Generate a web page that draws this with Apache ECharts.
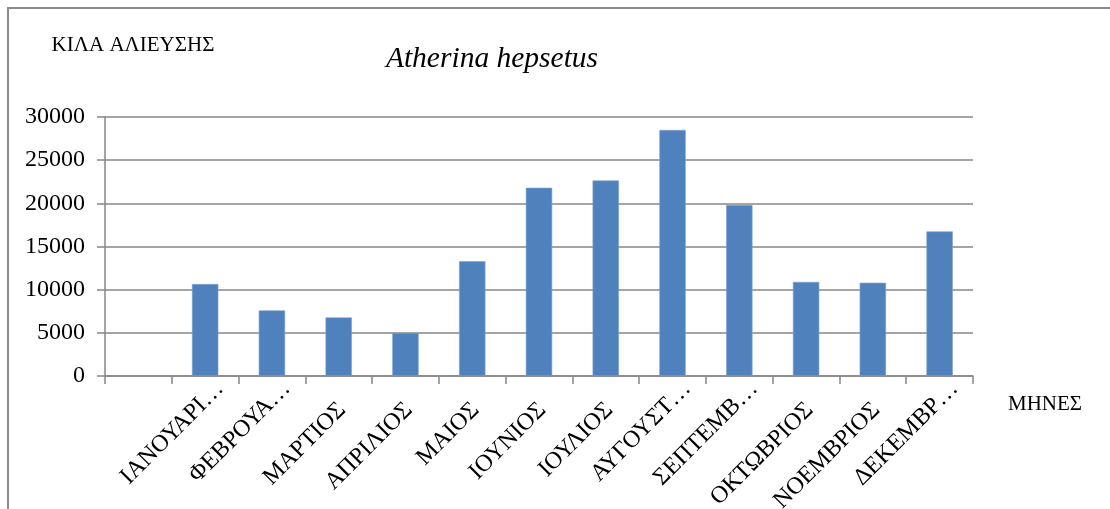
<!DOCTYPE html>
<html>
<head>
<meta charset="utf-8">
<script src="https://cdn.jsdelivr.net/npm/echarts@6/dist/echarts.min.js"></script>
<style>
html,body{margin:0;padding:0;background:#fff;overflow:hidden;}
#chart{width:1110px;height:509px;}
</style>
</head>
<body>
<div id="chart"></div>
<script>
var categories = ['', 'ΙΑΝΟΥΑΡΙ…', 'ΦΕΒΡΟΥΑ…', 'ΜΑΡΤΙΟΣ', 'ΑΠΡΙΛΙΟΣ', 'ΜΑΙΟΣ', 'ΙΟΥΝΙΟΣ', 'ΙΟΥΛΙΟΣ', 'ΑΥΓΟΥΣΤ…', 'ΣΕΠΤΕΜΒ…', 'ΟΚΤΩΒΡΙΟΣ', 'ΝΟΕΜΒΡΙΟΣ', 'ΔΕΚΕΜΒΡ…'];
var values = [null, 10650, 7600, 6790, 4980, 13300, 21800, 22650, 28500, 19800, 10900, 10800, 16750];
var yTicks = { min: 0, max: 30000, interval: 5000 };
var titleText = 'Atherina hepsetus';
var yName = 'ΚΙΛΑ ΑΛΙΕΥΣΗΣ';
var xName = 'ΜΗΝΕΣ';

var FONT = 'Liberation Serif';
var GRAY = '#878787';

// truncated labels (ending with an ellipsis) sit a little further out, as in the original
var categoryItems = categories.map(function (c) {
  if (c.charAt(c.length - 1) === '…') {
    return { value: c, textStyle: { verticalAlign: 'middle', padding: [0, -21, 0, 0] } };
  }
  return c;
});

var chart = echarts.init(document.getElementById('chart'), null, {renderer: 'canvas'});
chart.setOption({
  animation: false,
  backgroundColor: '#fff',
  title: {
    text: titleText,
    left: 487, top: 54,
    textAlign: 'center', textVerticalAlign: 'middle',
    textStyle: { fontFamily: FONT, fontStyle: 'italic', fontWeight: 'normal', fontSize: 29.5, color: '#000' }
  },
  graphic: [
    { type: 'rect', shape: { x: 8, y: 8, width: 1300, height: 700 }, style: { fill: null, stroke: '#8c8c8c', lineWidth: 2 }, silent: true, z: 0 },
    { type: 'text', x: 133, y: 45, style: { text: yName, font: '21px "Liberation Serif"', fill: '#000', textAlign: 'center', textVerticalAlign: 'middle' } },
    { type: 'text', x: 1045, y: 404, style: { text: xName, font: '21px "Liberation Serif"', fill: '#000', textAlign: 'center', textVerticalAlign: 'middle' } }
  ],
  grid: { left: 105, right: 137, top: 117, height: 259, containLabel: false, outerBoundsMode: 'none' },
  xAxis: {
    type: 'category',
    data: categoryItems,
    boundaryGap: true,
    axisLine: { show: true, lineStyle: { color: GRAY, width: 1.5 } },
    axisTick: { show: true, length: 8, alignWithLabel: false, lineStyle: { color: GRAY, width: 1.5 } },
    axisLabel: {
      interval: 0, rotate: 45, margin: 24, hideOverlap: false,
      align: 'right', verticalAlign: 'top', padding: [-5, 2, 0, 0],
      fontFamily: FONT, fontSize: 24, color: '#000'
    },
    splitLine: { show: false }
  },
  yAxis: {
    type: 'value',
    min: yTicks.min, max: yTicks.max, interval: yTicks.interval,
    axisLine: { show: true, lineStyle: { color: GRAY, width: 1.5 } },
    axisTick: { show: true, length: 8, lineStyle: { color: GRAY, width: 1.5 } },
    axisLabel: { margin: 20, fontFamily: FONT, fontSize: 24, color: '#000', formatter: function (v) { return String(v); } },
    splitLine: { show: true, lineStyle: { color: GRAY, width: 1.5 } }
  },
  series: [{
    type: 'bar',
    data: values,
    barWidth: '39.5%',
    itemStyle: { color: '#4F81BD', borderColor: '#7FA3D3', borderWidth: 0.6 }
  }]
});
</script>
</body>
</html>
